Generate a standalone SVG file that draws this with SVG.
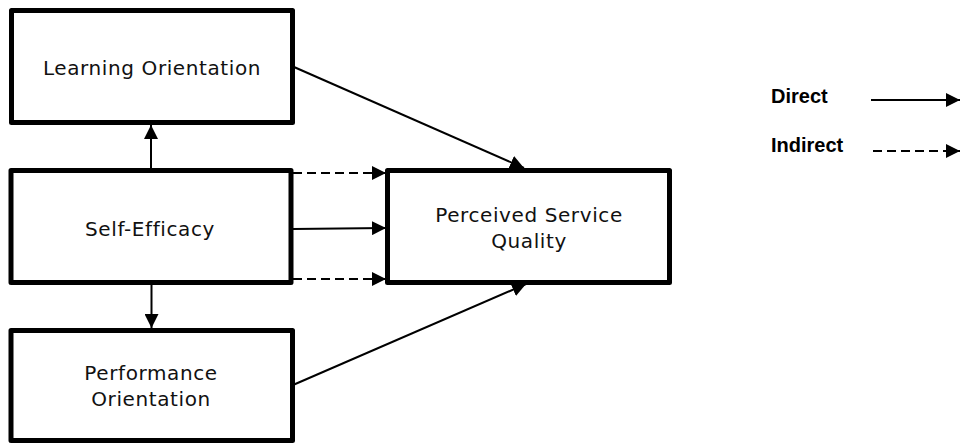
<svg xmlns="http://www.w3.org/2000/svg" width="960" height="443" viewBox="0 0 960 443">
<style>
.box{fill:#fff;stroke:#000;stroke-width:5;stroke-linejoin:round}
.lbl{font-family:"DejaVu Sans",Verdana,sans-serif;font-size:20px;letter-spacing:0.6px;fill:#111;text-anchor:middle}
.leg{font-family:"Liberation Sans",Arial,sans-serif;font-size:20px;font-weight:bold;fill:#000}
.c{fill:none;stroke:#000;stroke-width:2}
.d{stroke-dasharray:9 5}
</style>
<defs>
<marker id="ah" markerUnits="userSpaceOnUse" markerWidth="14" markerHeight="14" refX="14" refY="7" orient="auto">
<path d="M0,0 L14,7 L0,14 z" fill="#000"/>
</marker>
</defs>
<g id="connectors">
<line class="c" x1="151" y1="168" x2="151" y2="125" marker-end="url(#ah)"/>
<line class="c" x1="151.5" y1="285" x2="151.5" y2="328" marker-end="url(#ah)"/>
<line class="c" x1="294" y1="67" x2="524" y2="168" marker-end="url(#ah)"/>
<line class="c" x1="293" y1="385" x2="526" y2="284" marker-end="url(#ah)"/>
<line class="c" x1="293" y1="229" x2="386" y2="228" marker-end="url(#ah)"/>
<line class="c d" x1="293" y1="173" x2="386" y2="173" marker-end="url(#ah)"/>
<line class="c d" x1="293" y1="279" x2="386" y2="279" marker-end="url(#ah)"/>
</g>
<g id="learning-orientation">
<rect class="box" x="11.5" y="10.5" width="281" height="112"/>
<text class="lbl" x="152" y="75">Learning Orientation</text>
</g>
<g id="self-efficacy">
<rect class="box" x="11" y="170.5" width="280" height="112"/>
<text class="lbl" x="150" y="236">Self-Efficacy</text>
</g>
<g id="performance-orientation">
<rect class="box" x="11" y="330.5" width="281.5" height="110"/>
<text class="lbl" x="151" y="380">Performance</text>
<text class="lbl" x="151" y="406">Orientation</text>
</g>
<g id="perceived-service-quality">
<rect class="box" x="387.5" y="170.5" width="282" height="112"/>
<text class="lbl" x="529" y="222">Perceived Service</text>
<text class="lbl" x="529" y="248">Quality</text>
</g>
<g id="legend">
<text class="leg" x="771" y="102.5">Direct</text>
<text class="leg" x="771" y="151.5">Indirect</text>
<line class="c" x1="871" y1="100" x2="960" y2="100" marker-end="url(#ah)"/>
<line class="c d" x1="873" y1="151" x2="960" y2="151" marker-end="url(#ah)"/>
</g>
</svg>
